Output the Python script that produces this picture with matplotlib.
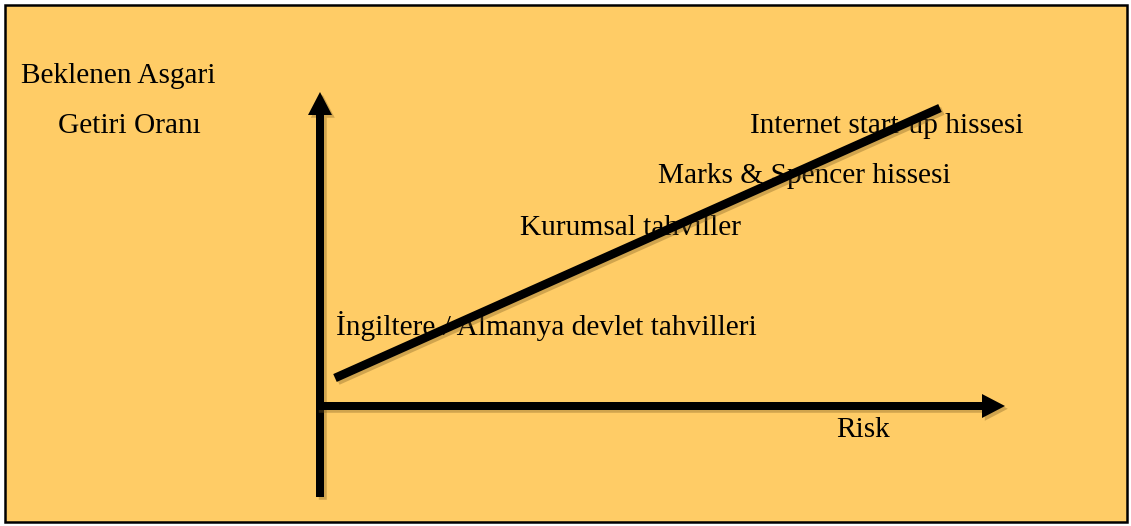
import matplotlib.pyplot as plt
import matplotlib.patheffects as pe
from matplotlib.patches import Rectangle

# varlik siniflari (dusuk riskten yuksek riske)
varliklar = ["İngiltere / Almanya devlet tahvilleri",
             "Kurumsal tahviller",
             "Marks & Spencer hissesi",
             "Internet start-up hissesi"]
eksen_y_etiket = ["Beklenen Asgari", "Getiri Oranı"]
eksen_x_etiket = "Risk"

# risk - getiri dogrusu (sekil koordinatlari, piksel)
dogru_x = [335, 940]
dogru_y = [378, 108]

ARKA_RENK = "#FFCC66"
GENISLIK, YUKSEKLIK = 1131, 526


def golge():
    return [pe.SimplePatchShadow(offset=(2, -2), shadow_rgbFace="#7a5a20", alpha=0.35), pe.Normal()]


def main():
    plt.rcParams['font.family'] = ['Liberation Serif', 'DejaVu Serif']
    fig = plt.figure(figsize=(GENISLIK / 100, YUKSEKLIK / 100), dpi=100, facecolor="white")
    ax = fig.add_axes([0, 0, 1, 1])
    ax.set_xlim(0, GENISLIK)
    ax.set_ylim(YUKSEKLIK, 0)
    ax.axis("off")

    ax.add_patch(Rectangle((5, 5), 1122, 517, facecolor=ARKA_RENK, edgecolor="black", linewidth=1.8, zorder=0))

    # eksenler
    ok_ayar = dict(width=8, head_width=24, head_length=23, length_includes_head=True,
                   facecolor="black", edgecolor="black", linewidth=0, zorder=3)
    y_ok = ax.arrow(320, 497, 0, -405, **ok_ayar)
    x_ok = ax.arrow(316, 406, 689, 0, **ok_ayar)
    y_ok.set_path_effects(golge())
    x_ok.set_path_effects(golge())

    ax.plot(dogru_x, dogru_y, color="black", linewidth=6.2, solid_capstyle="butt", zorder=4,
            path_effects=[pe.SimpleLineShadow(offset=(2, -2), shadow_color="#7a5a20", alpha=0.35), pe.Normal()])

    fs = 21.2
    ax.text(21, 83, eksen_y_etiket[0], fontsize=fs, va="baseline", ha="left", zorder=2)
    ax.text(58, 133, eksen_y_etiket[1], fontsize=fs, va="baseline", ha="left", zorder=2)
    ax.text(836, 437, eksen_x_etiket, fontsize=fs, va="baseline", ha="left", zorder=2)

    konumlar = [(336, 335), (520, 235), (658, 183), (750, 133)]
    for ad, (x, y) in zip(varliklar, konumlar):
        ax.text(x, y, ad, fontsize=fs, va="baseline", ha="left", zorder=2)

    fig.savefig("out.png", dpi=100, facecolor="white")


if __name__ == "__main__":
    main()
